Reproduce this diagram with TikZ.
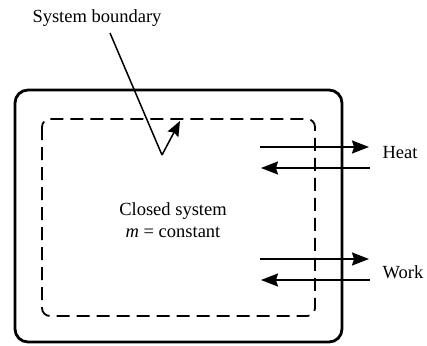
\documentclass[tikz,border=0pt]{standalone}
\usepackage{fontspec}
\setmainfont{Liberation Serif}
\usetikzlibrary{arrows.meta}
\tikzset{
  lbl/.style={font=\fontsize{18.5}{22}\selectfont, inner sep=0pt},
  outerbox/.style={line width=2.8pt, rounded corners=13pt},
  sysbound/.style={line width=1.8pt, dash pattern=on 13pt off 7pt, rounded corners=8pt},
  flow/.style={line width=1.8pt, -{Stealth[length=17pt,width=13pt,inset=2pt]}},
  pointer/.style={line width=1.5pt}
}
\begin{document}
\begin{tikzpicture}[x=1pt,y=-1pt]
\useasboundingbox (0,0) rectangle (427,345);
\draw[outerbox] (15,90) rectangle (342,342);
\draw[sysbound] (42,119) rectangle (315,316);
\node[lbl] (sb) at (97,18) {System boundary};
\coordinate (vtx) at (162,155);
\coordinate (tip) at (180,121);
\draw[pointer] (110,33) -- (vtx);
\draw[pointer, -{Stealth[length=15pt,width=12pt,inset=2pt]}] (vtx) -- (tip);
\node[lbl, align=center] (cs) at (173,220) {Closed system\\\textit{m} = constant};
\node[lbl] (heat) at (400,153) {Heat};
\node[lbl] (work) at (403,272) {Work};
\coordinate (h1s) at (260,147); \coordinate (h1e) at (369,147);
\coordinate (h2s) at (370,168); \coordinate (h2e) at (261,168);
\coordinate (w1s) at (260,259); \coordinate (w1e) at (369,259);
\coordinate (w2s) at (370,280); \coordinate (w2e) at (261,280);
\draw[flow] (h1s) -- (h1e);
\draw[flow] (h2s) -- (h2e);
\draw[flow] (w1s) -- (w1e);
\draw[flow] (w2s) -- (w2e);
\end{tikzpicture}
\end{document}
